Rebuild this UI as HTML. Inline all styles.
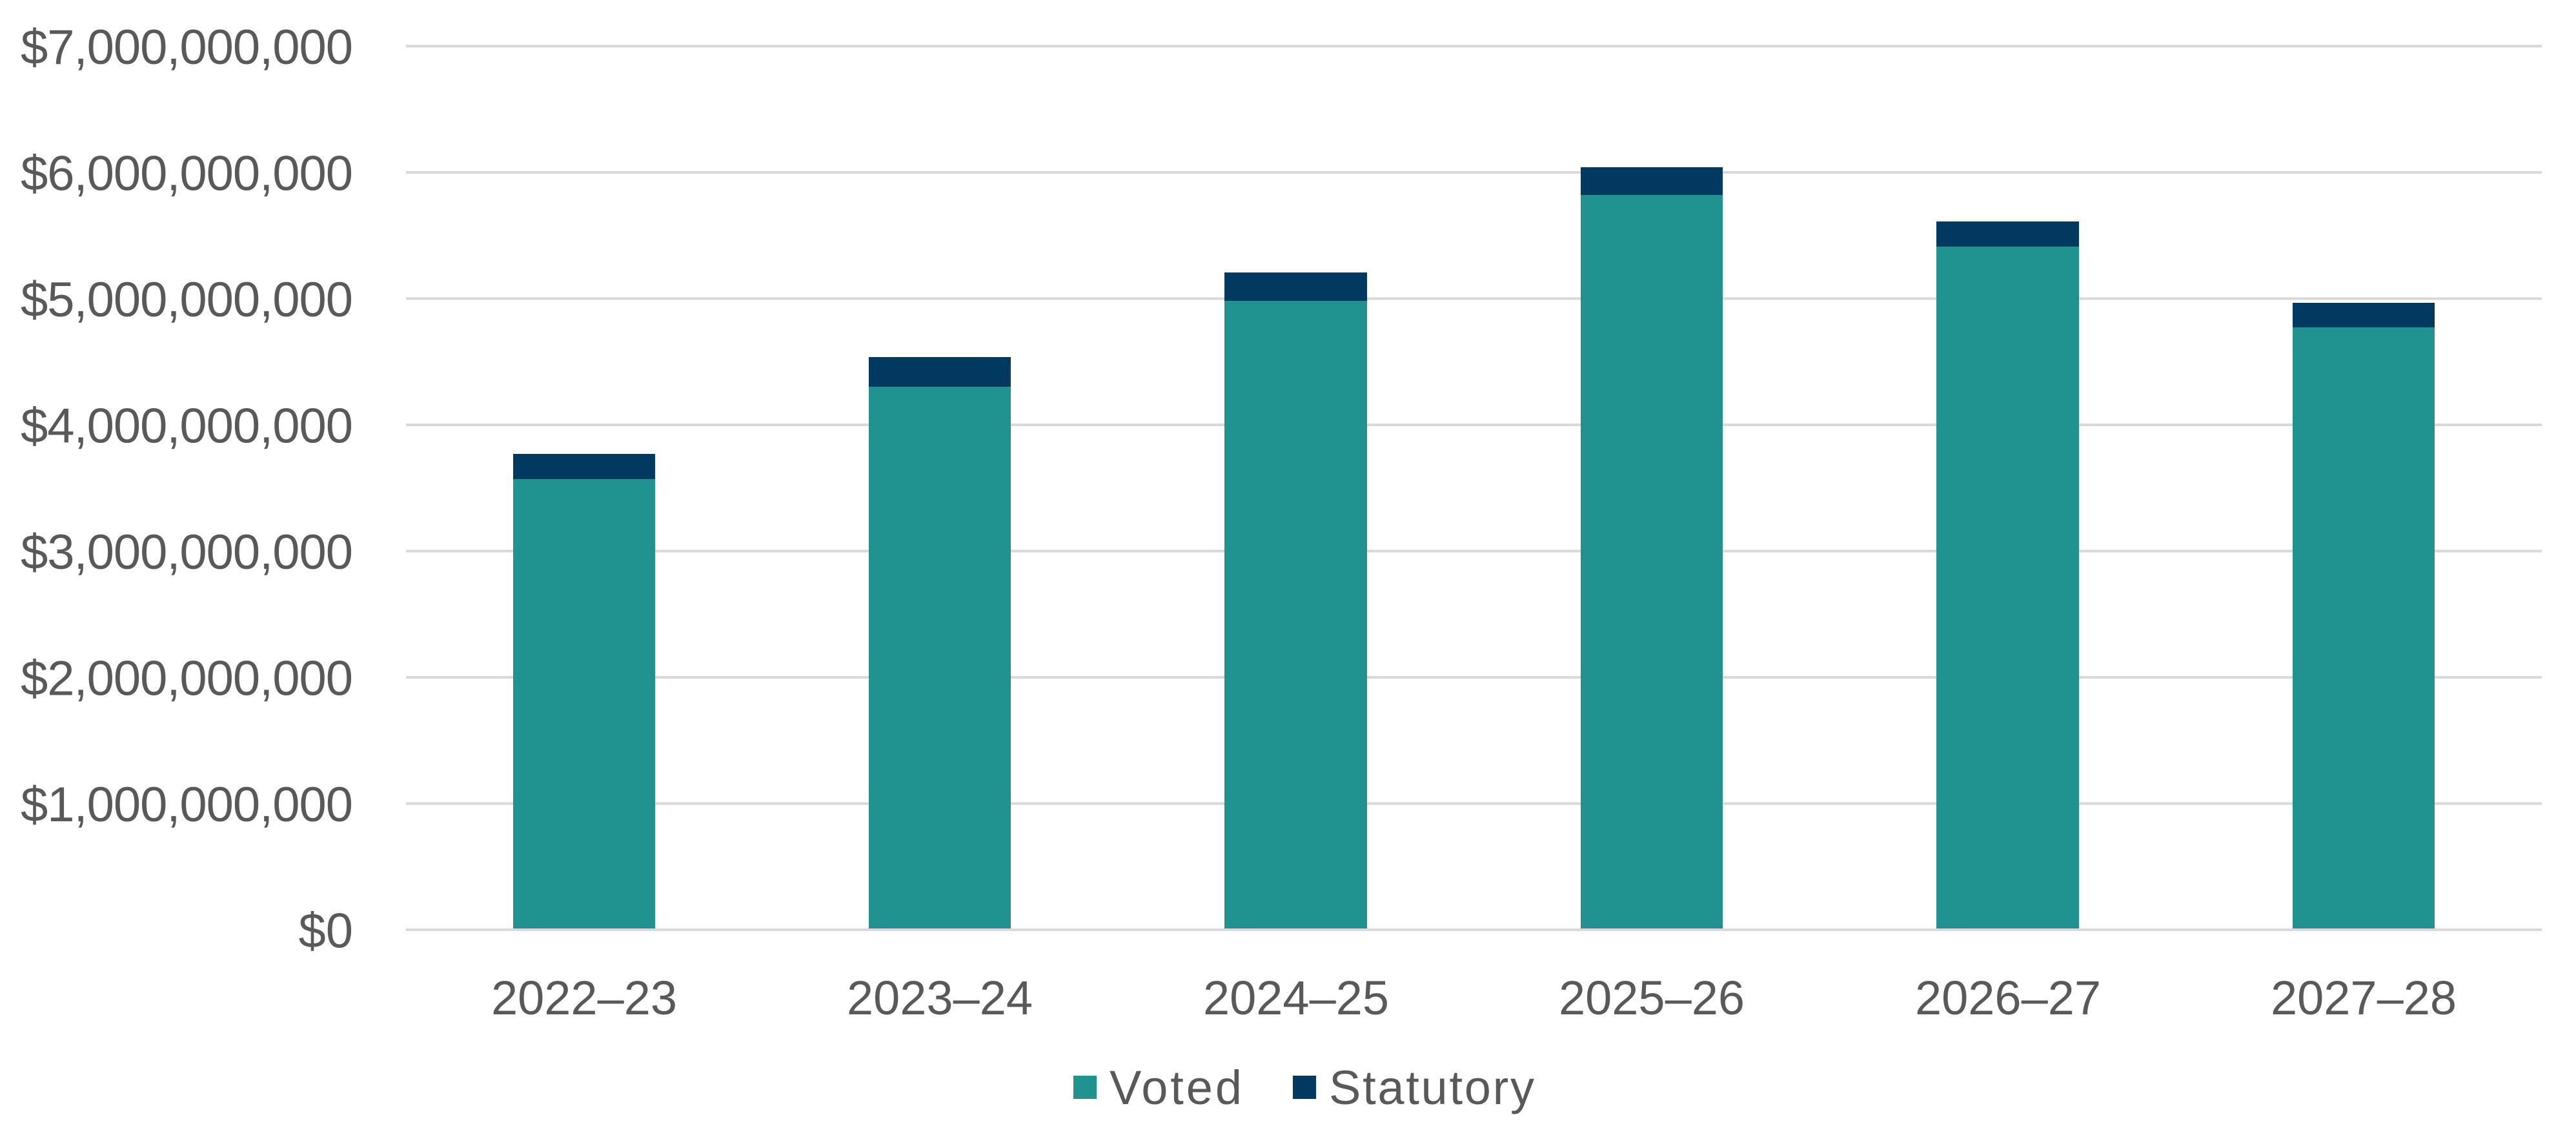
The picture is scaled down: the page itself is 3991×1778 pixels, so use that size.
<!DOCTYPE html>
<html><head><meta charset="utf-8"><style>
html,body{margin:0;padding:0;background:#fff;}
svg{display:block;}
text{font-family:"Liberation Sans",sans-serif;fill:#595959;}
</style></head><body>
<svg width="3991" height="1778" viewBox="0 0 3991 1778" xmlns="http://www.w3.org/2000/svg">
<g stroke="#d9d9d9" stroke-width="4">
<line x1="629" y1="71.5" x2="3938" y2="71.5"/>
<line x1="629" y1="267" x2="3938" y2="267"/>
<line x1="629" y1="462.5" x2="3938" y2="462.5"/>
<line x1="629" y1="658" x2="3938" y2="658"/>
<line x1="629" y1="853.5" x2="3938" y2="853.5"/>
<line x1="629" y1="1049" x2="3938" y2="1049"/>
<line x1="629" y1="1244.5" x2="3938" y2="1244.5"/>
<line x1="629" y1="1440" x2="3938" y2="1440"/>
</g>
<g font-size="76" text-anchor="end">
<text x="547" y="99" textLength="515">$7,000,000,000</text>
<text x="547" y="294.5" textLength="515">$6,000,000,000</text>
<text x="547" y="490" textLength="515">$5,000,000,000</text>
<text x="547" y="685.5" textLength="515">$4,000,000,000</text>
<text x="547" y="881" textLength="515">$3,000,000,000</text>
<text x="547" y="1076.5" textLength="515">$2,000,000,000</text>
<text x="547" y="1272" textLength="515">$1,000,000,000</text>
<text x="547" y="1467.5">$0</text>
</g>
<g>
<rect x="795" y="742" width="220" height="696" fill="#209390"/>
<rect x="795" y="703" width="220" height="39" fill="#013a61"/>
<rect x="1346" y="599" width="220" height="839" fill="#209390"/>
<rect x="1346" y="553" width="220" height="46" fill="#013a61"/>
<rect x="1897" y="466" width="221" height="972" fill="#209390"/>
<rect x="1897" y="422" width="221" height="44" fill="#013a61"/>
<rect x="2449" y="302" width="220" height="1136" fill="#209390"/>
<rect x="2449" y="259" width="220" height="43" fill="#013a61"/>
<rect x="3000" y="382" width="221" height="1056" fill="#209390"/>
<rect x="3000" y="343" width="221" height="39" fill="#013a61"/>
<rect x="3552" y="507" width="220" height="931" fill="#209390"/>
<rect x="3552" y="469" width="220" height="38" fill="#013a61"/>
</g>
<g font-size="74" text-anchor="middle">
<text x="905" y="1571">2022–23</text>
<text x="1456" y="1571">2023–24</text>
<text x="2008" y="1571">2024–25</text>
<text x="2559" y="1571">2025–26</text>
<text x="3111" y="1571">2026–27</text>
<text x="3662" y="1571">2027–28</text>
</g>
<rect x="1663" y="1666" width="36" height="36" fill="#209390"/>
<text x="1719" y="1710" font-size="74" textLength="205">Voted</text>
<rect x="2003" y="1666" width="36" height="36" fill="#013a61"/>
<text x="2059" y="1710" font-size="74" textLength="318">Statutory</text>
</svg>
</body></html>
